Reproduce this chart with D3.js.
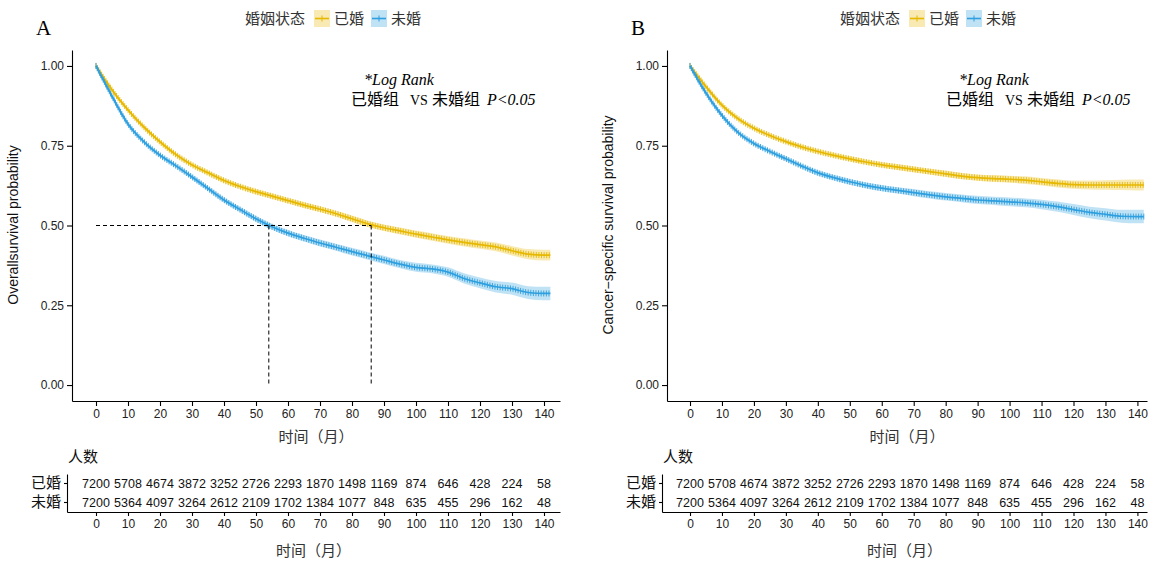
<!DOCTYPE html>
<html>
<head>
<meta charset="utf-8">
<script src="https://cdn.jsdelivr.net/npm/d3@7"></script>
<style>
body { margin: 0; background: #fff; }
text { font-family: "Liberation Sans", Arial, sans-serif; }
</style>
</head>
<body>
<svg id="chart" width="1152" height="563"></svg>
<script>
// time grid (months) of the values
const months = [0,5,10,15,20,25,30,35,40,45,50,55,60,65,70,75,80,85,90,95,100,105,110,115,120,125,130,135,140,142];

// A: overall survival
const osMarried = [1,.925,.862,.808,.762,.722,.69,.665,.641,.622,.606,.592,.578,.564,.551,.537,.521,.505,.493,.483,.473,.464,.455,.447,.44,.433,.421,.41,.407,.407];
const osSingle  = [1,.905,.818,.762,.72,.687,.652,.616,.58,.55,.521,.496,.476,.46,.445,.432,.418,.405,.392,.379,.369,.364,.354,.334,.32,.308,.302,.29,.287,.287];

// B: cancer-specific survival
const cssMarried = [1,.935,.877,.835,.805,.782,.763,.746,.732,.72,.709,.699,.69,.683,.676,.669,.662,.655,.65,.647,.645,.642,.637,.632,.628,.627,.627,.627,.627,.627];
const cssSingle  = [1,.915,.845,.792,.757,.732,.709,.686,.665,.65,.637,.626,.617,.61,.603,.596,.59,.585,.58,.577,.574,.571,.566,.559,.55,.541,.535,.529,.528,.528];

// half width of the confidence band
const ciMarried = [0,.003,.004,.005,.005,.006,.006,.007,.007,.007,.008,.008,.008,.009,.009,.009,.010,.010,.010,.011,.011,.012,.012,.013,.013,.014,.015,.016,.017,.017];
const ciSingle  = [0,.004,.005,.005,.006,.006,.007,.007,.008,.008,.009,.009,.010,.010,.011,.011,.012,.012,.013,.013,.014,.014,.015,.016,.017,.018,.019,.020,.021,.021];

// number at risk
const riskTimes   = [0,10,20,30,40,50,60,70,80,90,100,110,120,130,140];
const riskMarried = [7200,5708,4674,3872,3252,2726,2293,1870,1498,1169,874,646,428,224,58];
const riskSingle  = [7200,5364,4097,3264,2612,2109,1702,1384,1077,848,635,455,296,162,48];

const groups = ['已婚', '未婚'];
const colors = ['#E7B800', '#2E9FDF'];
const yTicks = [0, 0.25, 0.5, 0.75, 1];
const mediansA = [54, 86];

const cjk = '"Noto Sans CJK SC", "Liberation Serif", serif';
const serif = '"Liberation Serif", "Noto Sans CJK SC", serif';

const svg = d3.select('#chart');

function drawPanel(cfg) {
    const ax = cfg.axisX;
    const g = svg.append('g');

    const x = d3.scaleLinear().domain(cfg.xDomain).range([ax, cfg.xEnd]);
    const y = d3.scaleLinear().domain([-0.05, 1.05]).range([401, 50]);

    // panel letter
    g.append('text').attr('x', ax - 36).attr('y', 35)
        .style('font-family', serif).style('font-size', '21px').text(cfg.letter);

    // legend
    const lg = g.append('g').attr('transform', `translate(${ax + 173},0)`);
    lg.append('text').attr('x', 0).attr('y', 24)
        .style('font-family', cjk).style('font-size', '15px').attr('fill', '#333').text('婚姻状态');
    [0, 1].forEach(i => {
        const kx = 69 + i * 57;
        lg.append('rect').attr('x', kx).attr('y', 10).attr('width', 16).attr('height', 17)
            .attr('fill', colors[i]).attr('fill-opacity', 0.3);
        lg.append('line').attr('x1', kx + 1).attr('x2', kx + 15).attr('y1', 18.5).attr('y2', 18.5)
            .attr('stroke', colors[i]).attr('stroke-width', 1.6);
        lg.append('line').attr('x1', kx + 8).attr('x2', kx + 8).attr('y1', 15.5).attr('y2', 21.5)
            .attr('stroke', colors[i]).attr('stroke-width', 1);
        lg.append('text').attr('x', kx + 20).attr('y', 24)
            .style('font-family', cjk).style('font-size', '15px').attr('fill', '#333').text(groups[i]);
    });

    // annotation
    g.append('text').attr('x', ax + 292).attr('y', 85)
        .style('font-family', serif).style('font-size', '16px').style('font-style', 'italic')
        .text('*Log Rank');
    const ann = g.append('text').attr('y', 105)
        .style('font-family', serif).style('font-size', '16px');
    ann.append('tspan').attr('x', ax + 279).style('font-family', cjk).text('已婚组');
    ann.append('tspan').attr('x', ax + 338).style('font-size', '14px').text('VS');
    ann.append('tspan').attr('x', ax + 360).style('font-family', cjk).text('未婚组');
    ann.append('tspan').attr('x', ax + 415).style('font-style', 'italic').text('P<0.05');

    // bands and curves
    cfg.series.forEach((s, i) => {
        const pts = months.map((m, j) => ({ t: m, s: s[j], ci: cfg.ci[i][j] }));
        const area = d3.area().curve(d3.curveMonotoneX)
            .x(d => x(d.t)).y0(d => y(d.s - d.ci)).y1(d => y(d.s + d.ci));
        g.append('path').attr('d', area(pts))
            .attr('fill', colors[i]).attr('fill-opacity', 0.3);
    });
    cfg.series.forEach((s, i) => {
        const pts = months.map((m, j) => ({ t: m, s: s[j] }));
        const line = d3.line().curve(d3.curveMonotoneX).x(d => x(d.t)).y(d => y(d.s));
        const path = g.append('path').attr('d', line(pts))
            .attr('fill', 'none').attr('stroke', colors[i]).attr('stroke-width', 1.7);
        // censoring marks along the curve
        const node = path.node();
        const len = node.getTotalLength();
        const marks = d3.range(0, len, 2.6).map(l => node.getPointAtLength(l));
        g.append('g').selectAll('line').data(marks).join('line')
            .attr('x1', d => d.x).attr('x2', d => d.x)
            .attr('y1', d => d.y - 3).attr('y2', d => d.y + 3)
            .attr('stroke', colors[i]).attr('stroke-width', 0.9);
    });

    // median lines
    if (cfg.medians) {
        const dash = g.append('g').attr('stroke', '#000').attr('stroke-width', 1)
            .attr('stroke-dasharray', '4,3').attr('fill', 'none');
        dash.append('line').attr('x1', x(0)).attr('x2', x(d3.max(cfg.medians)))
            .attr('y1', y(0.5)).attr('y2', y(0.5));
        cfg.medians.forEach(m => {
            dash.append('line').attr('x1', x(m)).attr('x2', x(m))
                .attr('y1', y(0.5)).attr('y2', y(0));
        });
    }

    // axes
    const yAxis = g.append('g').attr('transform', `translate(${ax},0)`)
        .call(d3.axisLeft(y).tickValues(yTicks).tickFormat(d3.format('.2f')).tickSize(5).tickSizeOuter(0));
    const xAxis = g.append('g').attr('transform', 'translate(0,401)')
        .call(d3.axisBottom(x).tickValues(riskTimes).tickSize(5).tickSizeOuter(0));
    [yAxis, xAxis].forEach(a => {
        a.selectAll('path,line').attr('stroke', '#000').attr('stroke-width', 1.1);
        a.selectAll('text').attr('fill', '#222').style('font-size', '12px')
            .style('font-family', '"Liberation Sans", Arial, sans-serif');
    });

    g.append('text').attr('transform', `translate(${ax - 54},225) rotate(-90)`)
        .attr('text-anchor', 'middle').style('font-size', '14px').attr('fill', '#111')
        .text(cfg.yTitle);
    g.append('text').attr('x', (ax + cfg.xEnd) / 2).attr('y', 442).attr('text-anchor', 'middle')
        .style('font-family', cjk).style('font-size', '15px').attr('fill', '#333').text('时间（月）');

    // risk table
    const tx0 = ax - 5;
    const xt = d3.scaleLinear().domain([x.invert(tx0), x.invert(cfg.xEnd)]).range([tx0, cfg.xEnd]);
    const yt = d3.scaleBand().domain(groups).range([474, 512]);

    g.append('text').attr('x', ax - 4).attr('y', 462)
        .style('font-family', cjk).style('font-size', '15px').attr('fill', '#111').text('人数');

    const tyAxis = g.append('g').attr('transform', `translate(${tx0},0)`)
        .call(d3.axisLeft(yt).tickSize(3).tickSizeOuter(0));
    tyAxis.selectAll('text').style('font-family', cjk).style('font-size', '15px').attr('fill', '#111')
        .attr('x', -6);
    const txAxis = g.append('g').attr('transform', 'translate(0,512)')
        .call(d3.axisBottom(xt).tickValues(riskTimes).tickSize(4).tickSizeOuter(0));
    txAxis.selectAll('text').attr('fill', '#222').style('font-size', '12px')
        .style('font-family', '"Liberation Sans", Arial, sans-serif');
    [tyAxis, txAxis].forEach(a => a.selectAll('path,line').attr('stroke', '#000').attr('stroke-width', 1.1));

    [riskMarried, riskSingle].forEach((row, i) => {
        g.append('g').selectAll('text').data(row).join('text')
            .attr('x', (d, j) => xt(riskTimes[j]))
            .attr('y', yt(groups[i]) + yt.bandwidth() / 2 + 4.5)
            .attr('text-anchor', 'middle').style('font-size', '12.5px').attr('fill', '#111')
            .text(d => d);
    });

    g.append('text').attr('x', (tx0 + cfg.xEnd) / 2).attr('y', 556).attr('text-anchor', 'middle')
        .style('font-family', cjk).style('font-size', '15px').attr('fill', '#333').text('时间（月）');
}

drawPanel({
    letter: 'A', axisX: 72, xEnd: 560, xDomain: [-7.5, 145],
    series: [osMarried, osSingle], ci: [ciMarried, ciSingle],
    medians: mediansA, yTitle: 'Overallsurvival probability'
});
drawPanel({
    letter: 'B', axisX: 667, xEnd: 1147, xDomain: [-7.2, 143],
    series: [cssMarried, cssSingle], ci: [ciMarried, ciSingle],
    medians: null, yTitle: 'Cancer\u2212specific survival probability'
});
</script>
</body>
</html>
